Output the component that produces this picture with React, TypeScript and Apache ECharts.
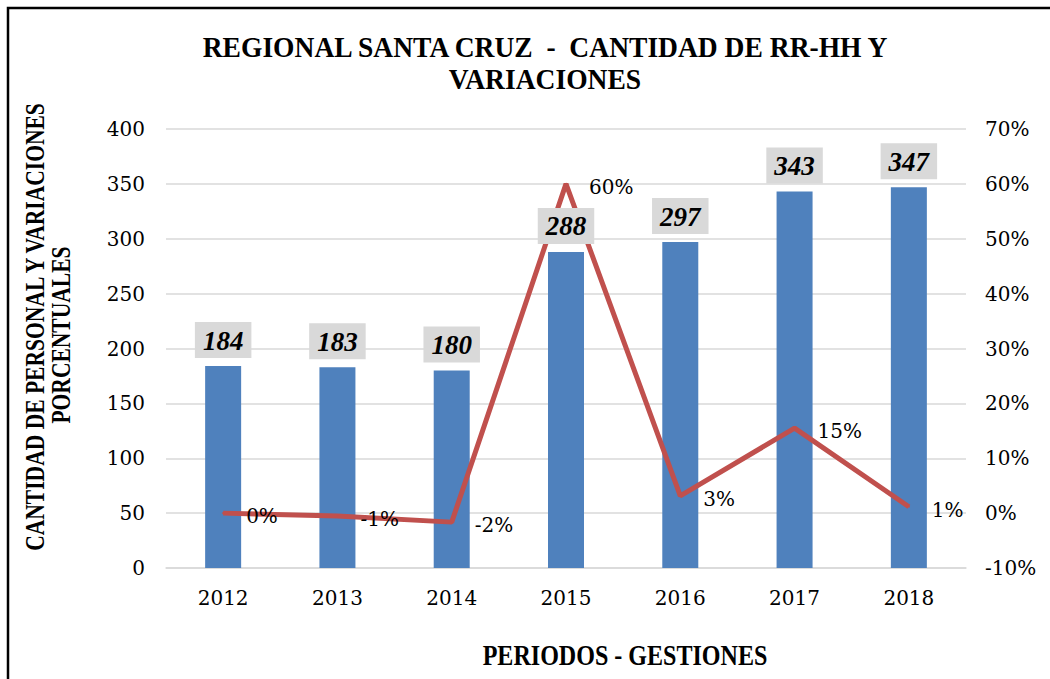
import React, { useEffect, useRef } from "react";
import * as echarts from "echarts";

const categories = ["2012", "2013", "2014", "2015", "2016", "2017", "2018"];
const staff = [184, 183, 180, 288, 297, 343, 347];
const variation = [0, -0.54, -1.64, 60, 3.13, 15.49, 1.17];
const titleLines = ["REGIONAL SANTA CRUZ  -  CANTIDAD DE RR-HH Y", "VARIACIONES"];
const yTitleLines = ["CANTIDAD DE PERSONAL Y VARIACIONES", "PORCENTUALES"];
const xTitle = "PERIODOS - GESTIONES";

const SERIF = "'Liberation Serif', 'Times New Roman', serif";
const NUM = "'DejaVu Serif', serif";

export default function App() {
  const ref = useRef<HTMLDivElement>(null);
  useEffect(() => {
    if (!ref.current) return;
    const chart = echarts.init(ref.current, undefined, { renderer: "svg" });
    const boldText = (text: string, x: number, y: number, size: number, sx: number, rot = 0) => ({
      type: "text",
      x,
      y,
      rotation: rot,
      scaleX: sx,
      scaleY: 1,
      style: {
        text,
        fontFamily: SERIF,
        fontWeight: "bold",
        fontSize: size,
        fill: "#000",
        align: "center",
        verticalAlign: "middle",
      },
    });
    chart.setOption({
      animation: false,
      backgroundColor: "#fff",
      grid: { left: 166, right: 84, top: 129, bottom: 111, containLabel: false },
      xAxis: {
        type: "category",
        data: categories,
        axisLine: { lineStyle: { color: "#d9d9d9", width: 1.5 } },
        axisTick: { show: false },
        axisLabel: { color: "#000", fontFamily: NUM, fontSize: 20, margin: 20 },
      },
      yAxis: [
        {
          type: "value",
          min: 0,
          max: 400,
          interval: 50,
          axisLine: { show: false },
          axisTick: { show: false },
          splitLine: { lineStyle: { color: "#d9d9d9", width: 1.5 } },
          axisLabel: { color: "#000", fontFamily: NUM, fontSize: 20, margin: 21 },
        },
        {
          type: "value",
          min: -10,
          max: 70,
          interval: 10,
          position: "right",
          axisLine: { show: false },
          axisTick: { show: false },
          splitLine: { show: false },
          axisLabel: { color: "#000", fontFamily: NUM, fontSize: 20, margin: 19, formatter: "{value}%" },
        },
      ],
      series: [
        {
          type: "bar",
          data: staff,
          barWidth: 36,
          barGap: "-100%",
          itemStyle: { color: "#4f81bd" },
          z: 2,
        },
        {
          type: "line",
          yAxisIndex: 1,
          data: variation,
          symbol: "circle",
          symbolSize: 2,
          showSymbol: true,
          lineStyle: { color: "#c0504d", width: 5 },
          itemStyle: { color: "#c0504d" },
          label: {
            show: true,
            position: "right",
            distance: 22,
            offset: [0, 3],
            color: "#000",
            fontFamily: NUM,
            fontSize: 20,
            formatter: (p: any) => Math.round(p.value) + "%",
          },
          z: 3,
        },
        {
          type: "bar",
          data: staff,
          barWidth: 36,
          barGap: "-100%",
          itemStyle: { color: "rgba(0,0,0,0)" },
          silent: true,
          label: {
            show: true,
            position: "top",
            distance: 8,
            color: "#000",
            fontFamily: SERIF,
            fontWeight: "bold",
            fontStyle: "italic",
            fontSize: 27,
            backgroundColor: "#d9d9d9",
            padding: [5, 8, 4, 8],
          },
          z: 5,
        },
      ],
      graphic: [
        {
          type: "rect",
          shape: { x: 8, y: 8, width: 1100, height: 720 },
          style: { fill: "none", stroke: "#000", lineWidth: 2.5 },
          silent: true,
        },
        boldText(titleLines[0], 545, 47, 29, 0.95),
        boldText(titleLines[1], 545, 79, 29, 0.95),
        boldText(yTitleLines[0], 34, 327, 28, 0.77, Math.PI / 2),
        boldText(yTitleLines[1], 60, 335, 28, 0.77, Math.PI / 2),
        boldText(xTitle, 625, 655, 29, 0.83),
      ],
    });
    return () => chart.dispose();
  }, []);
  return (
    <div
      ref={ref}
      style={{ position: "absolute", left: 0, top: 0, width: 1050, height: 679 }}
    />
  );
}
